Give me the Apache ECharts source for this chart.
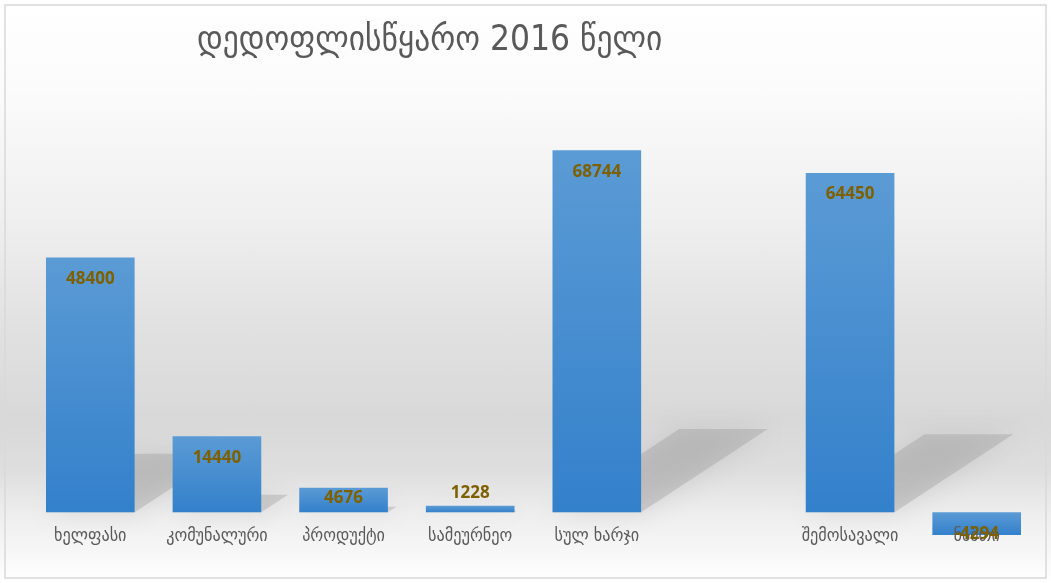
<!DOCTYPE html>
<html>
<head>
<meta charset="utf-8">
<script src="https://cdn.jsdelivr.net/npm/echarts@6/dist/echarts.min.js"></script>
<style>
  html, body { margin: 0; padding: 0; }
  #chart {
    width: 1051px; height: 583px;
    background: linear-gradient(to bottom, #ffffff 0px, #fbfbfb 90px, #efefef 220px, #e2e2e2 320px, #d8d8d8 420px, #dedede 470px, #eeeeee 515px, #f9f9f9 560px, #ffffff 583px);
  }
</style>
</head>
<body>
<div id="chart"></div>
<script>
var titleText = 'დედოფლისწყარო 2016 წელი';
var categories = ['ხელფასი', 'კომუნალური', 'პროდუქტი', 'სამეურნეო', 'სულ ხარჯი', '', 'შემოსავალი', 'ნაშთი'];
var values = [48400, 14440, 4676, 1228, 68744, '-', 64450, -4294];

var yMin = -10000, yMax = 80000;
var gridTop = 91, gridBottom = 18;

var myChart = echarts.init(document.getElementById('chart'), null, { renderer: 'canvas' });

var barColor = new echarts.graphic.LinearGradient(0, 0, 0, 1, [
    { offset: 0, color: '#5b9bd5' },
    { offset: 1, color: '#3380cb' }
]);

// where the value label sits, like excel does it for short bars
function labelFor(v) {
    if (v === '-') return {};
    if (v < 0) return { position: 'inside', offset: [0, 11] };
    if (v < 3000) return { position: 'top', distance: 4 };
    if (v < 8000) return { position: 'insideTop', distance: 2 };
    return { position: 'insideTop', distance: 13 };
}

var labelData = values.map(function (v) {
    return { value: v, label: labelFor(v) };
});

// perspective shadow behind the bars
function renderShadow(params, api) {
    var v = api.value(1);
    if (!(v > 0)) return;
    var base = api.coord([api.value(0), 0]);
    var top = api.coord([api.value(0), v]);
    var w = api.size([1, 0])[0] * 0.7;
    var h = base[1] - top[1];
    var xl = base[0] - w / 2, xr = base[0] + w / 2, y0 = base[1];
    return {
        type: 'polygon',
        shape: { points: [[xl, y0], [xr, y0], [xr + h * 0.35, y0 - h * 0.23], [xl + h * 0.35, y0 - h * 0.23]] },
        style: { fill: 'rgba(150,150,150,0.35)', shadowBlur: 24, shadowColor: 'rgba(150,150,150,0.7)' },
        z2: 0
    };
}

// onZero does not kick in with the hidden y axis, so lift the x axis up to zero by hand
var plotH = 583 - gridTop - gridBottom;
var zeroLift = plotH * (0 - yMin) / (yMax - yMin);

var option = {
    animation: false,
    title: {
        text: titleText,
        left: 192,
        top: 18,
        textStyle: { fontFamily: 'DejaVu Sans Condensed', fontSize: 35, fontWeight: 'normal', color: '#595959' }
    },
    graphic: [{
        type: 'rect',
        shape: { x: 5, y: 5, width: 1041, height: 573 },
        style: { fill: 'none', stroke: '#d9d9d9', lineWidth: 1.5 },
        silent: true
    }],
    grid: { left: 27, right: 11, top: gridTop, bottom: gridBottom, outerBoundsMode: 'none' },
    xAxis: {
        type: 'category',
        data: categories,
        z: 3,
        offset: -zeroLift,
        axisLine: { show: false, onZero: false },
        axisTick: { show: false },
        axisLabel: { margin: 15, color: '#595959', fontSize: 18, fontFamily: 'DejaVu Sans Condensed', interval: 0 }
    },
    yAxis: {
        type: 'value',
        min: yMin,
        max: yMax,
        show: false,
        splitLine: { show: false }
    },
    series: [{
        type: 'custom',
        renderItem: renderShadow,
        data: values.map(function (v, i) { return [i, v]; }),
        z: 1,
        silent: true
    }, {
        type: 'bar',
        data: values,
        barCategoryGap: '30%',
        z: 2,
        itemStyle: { color: barColor }
    }, {
        type: 'bar',
        data: labelData,
        barGap: '-100%',
        barCategoryGap: '30%',
        z: 4,
        itemStyle: { color: 'rgba(0,0,0,0)' },
        label: {
            show: true,
            color: '#7f6000',
            fontFamily: 'Open Sans',
            fontWeight: 'bold',
            fontSize: 17
        }
    }]
};
myChart.setOption(option);
</script>
</body>
</html>
